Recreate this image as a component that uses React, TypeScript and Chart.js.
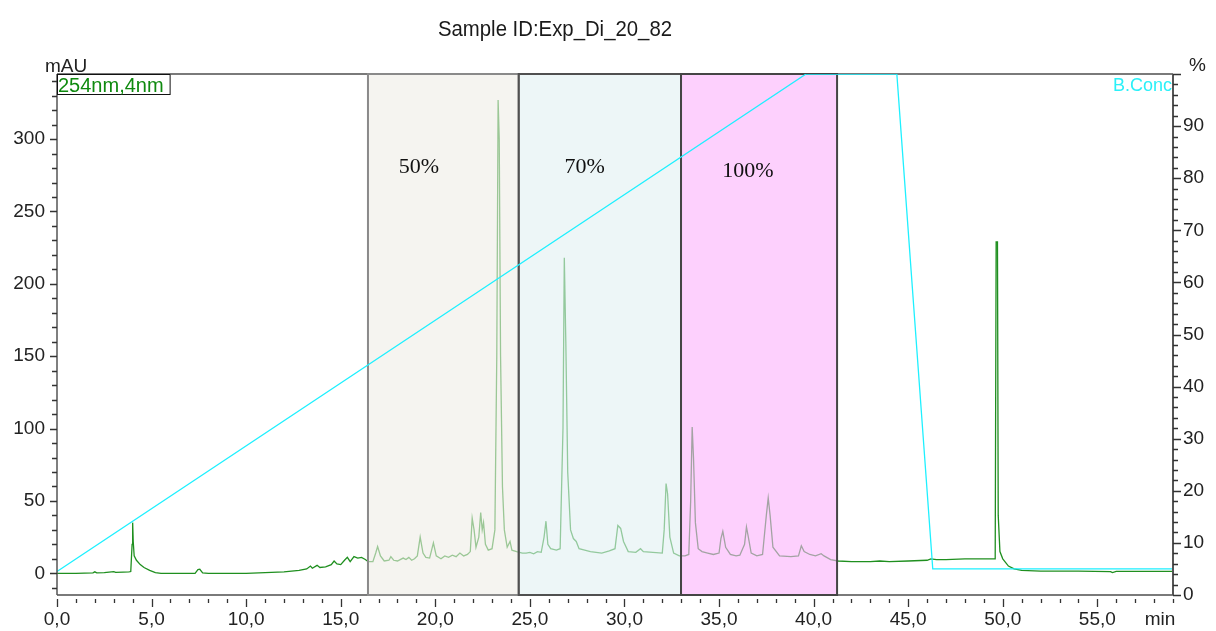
import React, { useEffect, useRef } from "react";
import { Chart, registerables } from "chart.js";

Chart.register(...registerables);

// ---- data ----
const traceTime = [
  0, 1.0, 1.9, 2.0, 2.1, 2.5, 3.0, 3.1, 3.5, 3.8, 3.9, 3.97, 4.0, 4.03, 4.08, 4.2, 4.4, 4.6, 4.9, 5.2, 5.5,
  7.3, 7.45, 7.55, 7.7, 8.0, 10.0, 11.0, 12.0, 12.8, 13.2, 13.4, 13.5, 13.75, 13.9, 14.2, 14.5, 14.65, 14.8,
  15.0, 15.2, 15.35, 15.5, 15.7, 15.9, 16.1, 16.3, 16.45, 16.7, 16.85, 16.95, 17.1, 17.3, 17.55, 17.65, 17.8,
  18.0, 18.3, 18.45, 18.6, 18.75, 18.9, 19.05, 19.2, 19.35, 19.5, 19.7, 19.9, 20.05, 20.3, 20.5, 20.7, 20.9,
  21.1, 21.3, 21.5, 21.7, 21.85, 21.95, 22.05, 22.15, 22.3, 22.4, 22.48, 22.55, 22.65, 22.8, 23.0, 23.15,
  23.25, 23.32, 23.38, 23.45, 23.55, 23.65, 23.8, 23.95, 24.05, 24.3, 24.6, 24.8, 25.0, 25.2, 25.4, 25.6,
  25.75, 25.85, 25.95, 26.1, 26.4, 26.6, 26.75, 26.82, 26.9, 27.0, 27.15, 27.3, 27.45, 27.6, 27.9, 28.2,
  28.5, 28.8, 29.2, 29.5, 29.65, 29.8, 29.95, 30.2, 30.6, 30.85, 31.0, 31.5, 32.0, 32.1, 32.2, 32.28, 32.4,
  32.6, 32.9, 33.2, 33.4, 33.5, 33.58, 33.65, 33.75, 33.9, 34.1, 34.4, 34.7, 35.0, 35.1, 35.2, 35.35, 35.6,
  35.9, 36.1, 36.35, 36.45, 36.55, 36.7, 37.0, 37.3, 37.5, 37.6, 37.7, 37.85, 38.2, 38.8, 39.2, 39.35, 39.5,
  39.8, 40.1, 40.4, 40.55, 40.9, 41.3, 42.0, 43.0, 43.5, 44.0, 45.0, 46.0, 46.2, 46.5, 47.0, 48.0, 49.0,
  49.6, 49.65, 49.72, 49.76, 49.85, 50.0, 50.3, 50.6, 51.0, 52.0, 54.0, 55.7, 55.8, 56.0, 59.0,
];
const traceMAU = [
  0, 0, 0.3, 1.0, 0.3, 0.5, 1.2, 0.6, 0.8, 1.0, 1.2, 20, 35, 22, 12, 9, 6, 4, 2, 0.5, 0,
  0, 2.5, 2.8, 0.3, 0, 0, 0.5, 1, 2, 3, 5, 3.5, 5.5, 4, 4.5, 6, 8.5, 6.5,
  6, 9, 11, 8, 11.5, 10.5, 11, 9.5, 8, 8, 14, 18.5, 12, 8.5, 9, 11.5, 9,
  8.5, 10.5, 9.5, 11, 9, 10, 12, 25, 14, 11, 10.5, 21, 12, 10, 12, 11, 12.5,
  11.5, 14, 12, 13, 15, 38, 30, 18, 25, 42, 30, 35, 20, 16, 17, 30,
  150, 327, 300, 150, 60, 30, 18, 22, 16, 15, 14, 14, 14.5, 13.5, 15, 14.5,
  25, 36, 20, 17, 16, 17, 100, 218, 160, 70, 30, 24, 22, 17, 16, 15,
  14.5, 14, 15.5, 17, 33, 31, 22, 15, 14.5, 17, 15, 14.5, 14, 30, 62, 55, 25,
  14, 12, 12, 13, 50, 101, 80, 35, 17, 15, 14, 13, 14, 24, 29, 18, 13,
  12, 12.5, 20, 32, 25, 14, 12, 13, 40, 52, 40, 18, 12, 11.5, 12, 19, 15,
  13, 12, 13.5, 12, 9.5, 8.5, 8, 8, 8.5, 8, 8.5, 9, 10, 9.5, 9.5, 10, 10,
  10, 229, 229, 40, 15, 10, 5, 3, 2, 1.5, 1.5, 1.2, 0.5, 1.3, 1.3,
];
const gradTime = [0, 39.6, 44.4, 46.3, 59];
const gradPct = [4.5, 100, 100, 5, 5];

const xTickValues = [0, 5, 10, 15, 20, 25, 30, 35, 40, 45, 50, 55];
const yTickValues = [0, 50, 100, 150, 200, 250, 300];
const y2TickValues = [0, 10, 20, 30, 40, 50, 60, 70, 80, 90];

const boxStart = [16.44, 24.41, 32.99];
const boxEnd = [24.41, 32.99, 41.24];
const boxLabels = ["50%", "70%", "100%"];
const boxLabelTime = [19.14, 27.89, 36.53];
const boxLabelMAU = [276.6, 276.6, 273.8];
const boxFills = ["rgba(238,236,230,0.6)", "rgba(225,240,242,0.6)", "rgba(252,177,252,0.6)"];
const boxBorders = ["#8a8a8a", "#505050", "#454545"];

const titleText = "Sample ID:Exp_Di_20_82";
const leftUnit = "mAU";
const rightUnit = "%";
const xUnit = "min";
const channelLabel = "254nm,4nm";
const gradLabel = "B.Conc";

const SANS = '"Liberation Sans", Arial, sans-serif';
const SERIF = '"Liberation Serif", "Times New Roman", serif';

const decor = {
  id: "decor",
  beforeDatasetsDraw(chart: any) {
    const { ctx, chartArea } = chart;
    const { left, right, top, bottom } = chartArea;
    ctx.save();
    ctx.lineWidth = 2;
    ctx.strokeStyle = "#7a7a7a";
    ctx.beginPath();
    ctx.moveTo(left, top);
    ctx.lineTo(right, top);
    ctx.moveTo(left, bottom);
    ctx.lineTo(right, bottom);
    ctx.stroke();
    ctx.restore();
  },
  beforeDatasetDraw(chart: any, args: any) {
    if (args.index !== 0) return;
    const { ctx, chartArea } = chart;
    const x = chart.scales.x;
    ctx.save();
    for (let i = 0; i < boxStart.length; i++) {
      const l = x.getPixelForValue(boxStart[i]);
      const r = x.getPixelForValue(boxEnd[i]);
      ctx.fillStyle = boxFills[i];
      ctx.fillRect(l, chartArea.top, r - l, chartArea.bottom - chartArea.top);
    }
    ctx.lineWidth = 2;
    for (let i = 0; i < boxStart.length; i++) {
      const l = x.getPixelForValue(boxStart[i]);
      const r = x.getPixelForValue(boxEnd[i]);
      ctx.strokeStyle = boxBorders[i];
      ctx.strokeRect(l, chartArea.top, r - l, chartArea.bottom - chartArea.top);
    }
    ctx.restore();
  },
  afterDraw(chart: any) {
    const { ctx, chartArea } = chart;
    const { left, right, top, bottom } = chartArea;
    const x = chart.scales.x;
    const y = chart.scales.y;
    const y2 = chart.scales.y2;
    ctx.save();
    // axis lines
    ctx.strokeStyle = "#555";
    ctx.lineWidth = 1.5;
    ctx.beginPath();
    ctx.moveTo(left, top);
    ctx.lineTo(left, bottom);
    ctx.stroke();
    ctx.lineWidth = 2;
    ctx.beginPath();
    ctx.moveTo(right, top);
    ctx.lineTo(right, bottom);
    ctx.stroke();

    // ticks
    ctx.strokeStyle = "#333";
    ctx.lineWidth = 1.3;
    ctx.beginPath();
    for (let v = 0; v <= 59; v++) {
      const px = Math.round(x.getPixelForValue(v)) + 0.5;
      const len = v % 5 === 0 ? 8 : 4;
      ctx.moveTo(px, bottom + 4);
      ctx.lineTo(px, bottom + 4 + len);
    }
    for (let v = -10; v <= 340; v += 10) {
      const py = Math.round(y.getPixelForValue(v)) + 0.5;
      const len = v % 50 === 0 ? 7 : 5;
      ctx.moveTo(left - len, py);
      ctx.lineTo(left, py);
    }
    for (let v = 0; v <= 100; v += 2) {
      const py = Math.round(y2.getPixelForValue(v)) + 0.5;
      const len = v % 10 === 0 ? 8 : 5;
      ctx.moveTo(right, py);
      ctx.lineTo(right + len, py);
    }
    ctx.stroke();

    // box labels
    ctx.fillStyle = "#111";
    ctx.font = `22px ${SERIF}`;
    ctx.textAlign = "center";
    ctx.textBaseline = "alphabetic";
    for (let i = 0; i < boxLabels.length; i++) {
      ctx.fillText(boxLabels[i], x.getPixelForValue(boxLabelTime[i]), y.getPixelForValue(boxLabelMAU[i]));
    }

    // channel legend box
    ctx.font = `20px ${SANS}`;
    ctx.textAlign = "left";
    const tw = ctx.measureText(channelLabel).width;
    ctx.fillStyle = "#fff";
    ctx.fillRect(left, top, tw + 8, 21);
    ctx.strokeStyle = "#111";
    ctx.lineWidth = 1;
    ctx.strokeRect(left + 0.5, top + 0.5, tw + 7, 20);
    ctx.fillStyle = "#0f8a0f";
    ctx.fillText(channelLabel, left + 1, top + 18);

    // gradient label
    ctx.font = `18px ${SANS}`;
    ctx.textAlign = "right";
    ctx.fillStyle = "#2af0f8";
    ctx.fillText(gradLabel, right - 1, top + 17);

    // unit labels
    ctx.fillStyle = "#222";
    ctx.font = `19px ${SANS}`;
    ctx.textAlign = "left";
    ctx.fillText(leftUnit, 45, top - 2);
    ctx.fillText(rightUnit, right + 16, top - 3);
    ctx.textAlign = "center";
    ctx.fillText(xUnit, 1160, bottom + 30);

    // title (condensed)
    ctx.font = `22px ${SANS}`;
    const w = ctx.measureText(titleText).width;
    const sx = 234 / w;
    ctx.translate(555, 36);
    ctx.scale(sx, 1);
    ctx.textAlign = "center";
    ctx.fillStyle = "#1a1a1a";
    ctx.fillText(titleText, 0, 0);
    ctx.restore();
  },
};

export default function App() {
  const ref = useRef<HTMLCanvasElement | null>(null);
  useEffect(() => {
    document.body.style.margin = "0";
    const canvas = ref.current!;
    const trace = traceTime.map((t, i) => ({ x: t, y: traceMAU[i] }));
    const grad = gradTime.map((t, i) => ({ x: t, y: gradPct[i] }));
    const tickFont = { family: SANS, size: 19 };
    const chart = new Chart(canvas, {
      type: "line",
      data: {
        datasets: [
          {
            label: "B.Conc",
            data: grad,
            yAxisID: "y2",
            borderColor: "#1ef0ff",
            borderWidth: 1.3,
            pointRadius: 0,
            tension: 0,
          },
          {
            label: "254nm,4nm",
            data: trace,
            yAxisID: "y",
            borderColor: "#1f8f1f",
            borderWidth: 1.3,
            pointRadius: 0,
            tension: 0,
          },
        ],
      },
      options: {
        responsive: false,
        animation: false,
        devicePixelRatio: 1,
        layout: { padding: { top: 74, left: 0, right: 0, bottom: 0 } },
        plugins: { legend: { display: false }, tooltip: { enabled: false }, title: { display: false } },
        scales: {
          x: {
            type: "linear",
            min: 0,
            max: 59,
            grid: { display: true, drawOnChartArea: false, drawTicks: false, color: "rgba(0,0,0,0)" },
            border: { display: false },
            afterBuildTicks: (s: any) => {
              s.ticks = xTickValues.map((v) => ({ value: v }));
            },
            afterFit: (s: any) => {
              s.height = 36;
            },
            ticks: {
              padding: 13,
              color: "#222",
              font: tickFont,
              maxRotation: 0,
              autoSkip: false,
              callback: (v: any) => Number(v).toFixed(1).replace(".", ","),
            },
          },
          y: {
            type: "linear",
            position: "left",
            min: -15,
            max: 345,
            grid: { display: true, drawOnChartArea: false, drawTicks: false, color: "rgba(0,0,0,0)" },
            border: { display: false },
            afterBuildTicks: (s: any) => {
              s.ticks = yTickValues.map((v) => ({ value: v }));
            },
            afterFit: (s: any) => {
              s.width = 57;
            },
            ticks: { padding: 12, color: "#222", font: tickFont, autoSkip: false },
          },
          y2: {
            type: "linear",
            position: "right",
            min: 0,
            max: 100,
            grid: { display: true, drawOnChartArea: false, drawTicks: false, color: "rgba(0,0,0,0)" },
            border: { display: false },
            afterBuildTicks: (s: any) => {
              s.ticks = y2TickValues.map((v) => ({ value: v }));
            },
            afterFit: (s: any) => {
              s.width = 43;
            },
            ticks: { padding: 10, color: "#222", font: tickFont, autoSkip: false },
          },
        },
      },
      plugins: [decor],
    });
    return () => chart.destroy();
  }, []);
  return (
    <div style={{ position: "fixed", left: 0, top: 0, width: 1216, height: 631, background: "#fff" }}>
      <canvas ref={ref} width={1216} height={631} style={{ width: 1216, height: 631, display: "block" }} />
    </div>
  );
}
